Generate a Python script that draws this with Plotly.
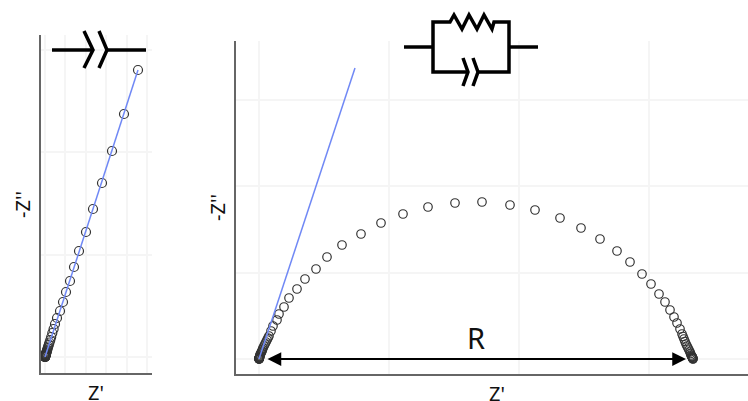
import plotly.graph_objects as go

W, H = 748, 401

# left panel: capacitor only (values in plot units)
cap_x = [93, 79, 67, 57, 48, 41, 34, 29, 25, 21, 18, 15, 12, 10, 8.6, 7.3, 6.2, 5.3, 4.5, 3.8,
         3.2, 2.7, 2.3, 2, 1.7, 1.4, 1.2, 1, 0.9, 0.7, 0.6, 0.5, 0.4, 0.4, 0.3, 0.2, 0.2, 0.1, 0.1, 0.1, 0, 0, 0, 0]
cap_y = [287, 243, 206, 174, 148, 125, 106, 90, 76, 65, 55, 46, 39, 33, 28, 24, 20, 17, 14.5, 12.3,
         10.5, 8.9, 7.5, 6.4, 5.4, 4.6, 3.9, 3.3, 2.8, 2.4, 2, 1.7, 1.4, 1.2, 1, 0.8, 0.7, 0.5, 0.4, 0.3, 0.2, 0.1, 0.05, 0]
cap_line_x = [0, 93]
cap_line_y = [0, 287]

# right panel: parallel RC arc
rc_x = [0, 0.05, 0.1, 0.15, 0.2, 0.25, 0.3, 0.35, 0.4, 0.5, 0.6, 0.7, 0.8, 1, 1.5, 2, 2.5, 3, 3.5, 4, 5, 6, 7, 8, 9, 10, 12, 14,
        18, 20, 25, 30, 38, 46, 57, 68, 83, 102, 122, 144, 169, 196, 223, 251, 276, 301, 322, 341, 358,
        371, 383, 392, 400, 406, 411, 415, 418, 421, 423, 424, 425, 426, 427, 428, 429, 430, 431, 431.5, 432, 432.5,
        433, 433.2, 433.4, 433.6, 433.8, 433.9, 434]
rc_y = [0, 0.1, 0.2, 0.3, 0.45, 0.6, 0.75, 0.9, 1.2, 1.6, 2, 2.5, 3, 4, 5, 6, 7, 8, 9.5, 11, 13, 15, 17, 19, 21, 23, 28, 33,
        39, 45, 52, 61, 70, 80, 90, 102, 114, 125, 136, 145, 152, 156, 157, 154, 149, 141, 131, 120, 108,
        97, 85, 75, 65, 57, 49, 42, 36, 30, 25, 22.5, 20, 17.5, 15, 13, 11, 9, 7, 5.5, 4, 3,
        2.5, 2, 1.6, 1, 0.6, 0.3, 0]
rc_line_x = [0, 96]
rc_line_y = [0, 291]
R_start = 7
R_end = 427


def px(x, y):
    return f"{x / W:.5f},{1 - y / H:.5f}"


def path(points):
    return "M" + " L".join(px(x, y) for x, y in points)


def symbol(points, width):
    return dict(type="path", xref="paper", yref="paper", path=path(points),
                line=dict(color="black", width=width))


def label(text, x, y, size=20, angle=0):
    return dict(text=text, xref="paper", yref="paper", x=x / W, y=1 - y / H, xanchor="center", yanchor="middle",
                showarrow=False, textangle=angle, font=dict(family="Noto Sans", size=size, color="#111111"))


fig = go.Figure()
for xs, ys, lx, ly, ax, ay, size in [
    (cap_x, cap_y, cap_line_x, cap_line_y, "x", "y", 9),
    (rc_x, rc_y, rc_line_x, rc_line_y, "x2", "y2", 8.5),
]:
    fig.add_trace(go.Scatter(x=xs, y=ys, mode="markers", xaxis=ax, yaxis=ay,
                             marker=dict(size=size, color="rgba(0,0,0,0)", line=dict(color="#333333", width=1.2))))
    fig.add_trace(go.Scatter(x=lx, y=ly, mode="lines", xaxis=ax, yaxis=ay,
                             line=dict(color="#7088f5", width=1.5)))

axis = dict(showline=True, linecolor="#666666", linewidth=2, gridcolor="#f5f5f5", gridwidth=1.5,
            zeroline=False, showticklabels=False, ticks="")

fig.update_layout(
    width=W, height=H, margin=dict(l=0, r=0, t=0, b=0),
    paper_bgcolor="white", plot_bgcolor="white", showlegend=False,
    xaxis=dict(axis, domain=[41 / W, 152 / W], range=[-4, 107], dtick=20.4, tick0=0, anchor="y"),
    yaxis=dict(axis, domain=[1 - 373 / H, 1 - 35 / H], range=[-16, 322], dtick=102.3, tick0=0, anchor="x"),
    xaxis2=dict(axis, domain=[236 / W, 1], range=[-23, 489], dtick=130, tick0=0, anchor="y2"),
    yaxis2=dict(axis, domain=[1 - 374 / H, 1 - 41 / H], range=[-15, 318], dtick=86.4, tick0=0, anchor="x2"),
    shapes=[
        symbol([(52, 50), (93, 50)], 3.5),
        symbol([(84, 31), (93, 50), (84, 68)], 3.5),
        symbol([(99, 31), (107, 50), (99, 68)], 3.5),
        symbol([(107, 50), (146, 50)], 3.5),
        symbol([(404, 47), (433, 47)], 3.5),
        symbol([(509, 47), (538, 47)], 3.5),
        symbol([(433, 47), (433, 22), (450, 22), (454, 15), (462, 29), (469, 15), (477, 29), (484, 15),
                (492, 29), (494, 22), (509, 22), (509, 47)], 3.5),
        symbol([(433, 47), (433, 72), (468, 72)], 3.5),
        symbol([(463, 58), (468, 72), (463, 86)], 3.5),
        symbol([(473, 58), (478, 72), (473, 86)], 3.5),
        symbol([(478, 72), (509, 72), (509, 47)], 3.5),
    ],
    annotations=[
        label("Z'", 96, 392),
        label("Z'", 497, 393),
        label("-Z''", 22, 205, angle=-90),
        label("-Z''", 217, 208, angle=-90),
        label("R", 476, 337, size=29),
        dict(x=R_end, y=0, ax=R_start, ay=0, xref="x2", yref="y2", axref="x2", ayref="y2", text="",
             showarrow=True, arrowhead=2, arrowside="end+start", arrowsize=1.25, arrowwidth=2.2, arrowcolor="black"),
    ],
)

fig.write_html("out.html", config=dict(displayModeBar=False),
               post_script="document.body.style.margin='0';document.body.style.overflow='hidden';")
